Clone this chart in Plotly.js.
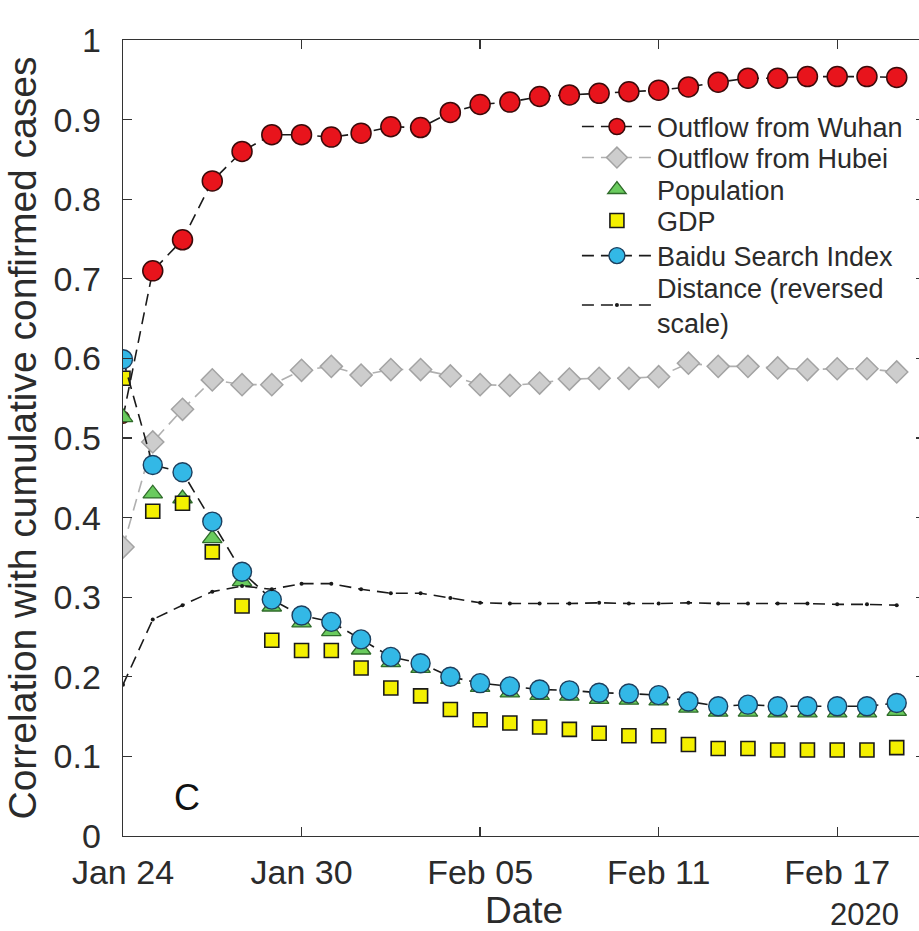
<!DOCTYPE html>
<html>
<head>
<meta charset="utf-8">
<script src="https://cdn.plot.ly/plotly-3.0.1.min.js"></script>
<style>
html,body{margin:0;padding:0;background:#fff;overflow:hidden;width:919px;height:931px;}
#chart{width:925px;height:931px;}
</style>
</head>
<body>
<div id="chart"></div>
<script>
var dates = ["2020-01-24","2020-01-25","2020-01-26","2020-01-27","2020-01-28","2020-01-29","2020-01-30","2020-01-31",
  "2020-02-01","2020-02-02","2020-02-03","2020-02-04","2020-02-05","2020-02-06","2020-02-07","2020-02-08","2020-02-09",
  "2020-02-10","2020-02-11","2020-02-12","2020-02-13","2020-02-14","2020-02-15","2020-02-16","2020-02-17","2020-02-18","2020-02-19"];
var wuhan = [0.526,0.710,0.749,0.823,0.860,0.881,0.881,0.878,0.883,0.891,0.890,0.909,0.919,0.922,0.929,0.931,0.933,0.935,0.937,0.941,0.947,0.952,0.952,0.954,0.954,0.954,0.953];
var hubei = [0.363,0.495,0.536,0.573,0.567,0.567,0.585,0.590,0.579,0.586,0.586,0.578,0.567,0.566,0.569,0.574,0.575,0.575,0.577,0.594,0.590,0.590,0.588,0.586,0.587,0.587,0.583];
var population = [0.526,0.430,0.424,0.374,0.320,0.288,0.268,0.257,0.234,0.218,0.211,0.197,0.187,0.180,0.177,0.176,0.172,0.171,0.170,0.161,0.156,0.156,0.155,0.155,0.155,0.155,0.157];
var gdp = [0.575,0.408,0.418,0.357,0.289,0.246,0.233,0.233,0.211,0.186,0.176,0.159,0.146,0.142,0.137,0.134,0.129,0.126,0.126,0.115,0.110,0.110,0.108,0.108,0.108,0.108,0.111];
var baidu = [0.599,0.466,0.457,0.395,0.332,0.297,0.277,0.269,0.247,0.225,0.217,0.200,0.192,0.188,0.184,0.183,0.180,0.179,0.177,0.169,0.163,0.165,0.163,0.163,0.163,0.163,0.167];
var distance = [0.190,0.272,0.290,0.307,0.314,0.310,0.317,0.317,0.310,0.305,0.305,0.299,0.293,0.292,0.292,0.292,0.293,0.292,0.292,0.293,0.292,0.292,0.292,0.292,0.291,0.291,0.290];
var seriesNames = ["Outflow from Wuhan","Outflow from Hubei","Population","GDP","Baidu Search Index","Distance (reversed<br>scale)"];
var xTickVals = ["2020-01-24","2020-01-30","2020-02-05","2020-02-11","2020-02-17"];
var xTickText = ["Jan 24","Jan 30","Feb 05","Feb 11","Feb 17"];
var yearLabel = "2020";
var panelLabel = "C";

var FONT = "Liberation Sans, Arial, sans-serif";
var TXT = "#2b2b2b";
var DASH = "12px,7px";

// Wuhan's first marker sits behind the Population triangle in the reference
var wuhanSizes = dates.map(function (d, i) { return i === 0 ? 12 : 20; });

var traces = [
  {x: dates, y: wuhan, name: seriesNames[0], type: "scatter", mode: "lines+markers", legend: "legend",
   line: {color: "#1a1a1a", width: 1.6, dash: DASH},
   marker: {symbol: "circle", size: wuhanSizes, opacity: 1, color: "#e8141c", line: {color: "#3a0a0a", width: 1.5}}},
  {x: dates, y: hubei, name: seriesNames[1], type: "scatter", mode: "lines+markers", legend: "legend2",
   line: {color: "#b0b0b0", width: 1.6, dash: DASH},
   marker: {symbol: "diamond", size: 17, color: "#cdcdcd", line: {color: "#a3a3a3", width: 1.5}}},
  {x: dates, y: population, name: seriesNames[2], type: "scatter", mode: "markers", legend: "legend3",
   marker: {symbol: "triangle-up", size: 17, color: "#6acb5e", line: {color: "#2f6b2a", width: 1.3}}},
  {x: dates, y: gdp, name: seriesNames[3], type: "scatter", mode: "markers", legend: "legend4",
   marker: {symbol: "square", size: 14, color: "#f4f000", line: {color: "#1a1a1a", width: 1.6}}},
  {x: dates, y: baidu, name: seriesNames[4], type: "scatter", mode: "lines+markers", legend: "legend5",
   line: {color: "#1a1a1a", width: 1.6, dash: DASH},
   marker: {symbol: "circle", size: 19, color: "#33b8e6", line: {color: "#1d3f5e", width: 1.4}}},
  {x: dates, y: distance, name: seriesNames[5], type: "scatter", mode: "lines+markers", legend: "legend6",
   line: {color: "#1a1a1a", width: 1.6, dash: DASH},
   marker: {symbol: "circle", size: 4, color: "#1a1a1a"}}
];

function legendAt(yPaper) {
  return {x: 0.566, y: yPaper, xanchor: "left", yanchor: "middle", bgcolor: "rgba(255,255,255,0)",
          borderwidth: 0, font: {family: FONT, size: 27, color: TXT}, itemwidth: 70};
}

var layout = {
  width: 925, height: 931,
  margin: {l: 123, r: 0, t: 40, b: 95, pad: 0},
  paper_bgcolor: "#ffffff", plot_bgcolor: "#ffffff",
  font: {family: FONT, color: TXT, size: 34},
  showlegend: true,
  legend: legendAt(0.8907),
  legend2: legendAt(0.8518),
  legend3: legendAt(0.8116),
  legend4: legendAt(0.7726),
  legend5: legendAt(0.7286),
  legend6: legendAt(0.6665),
  xaxis: {
    type: "date", range: ["2020-01-24 00:00", "2020-02-19 22:48"],
    tickmode: "array", tickvals: xTickVals, ticktext: xTickText,
    ticks: "inside", ticklen: 9, tickwidth: 1.3, tickcolor: "#333",
    showline: true, linecolor: "#333", linewidth: 1.4, mirror: "ticks",
    showgrid: false, zeroline: false,
    tickfont: {family: FONT, size: 34, color: TXT},
    ticklabelstandoff: 6,
    title: {text: "Date", font: {family: FONT, size: 37, color: TXT}, standoff: 15}
  },
  yaxis: {
    range: [0, 1], tick0: 0, dtick: 0.1,
    ticks: "inside", ticklen: 9, tickwidth: 1.3, tickcolor: "#333",
    showline: true, linecolor: "#333", linewidth: 1.4, mirror: "ticks",
    showgrid: false, zeroline: false,
    tickfont: {family: FONT, size: 34, color: TXT},
    ticklabelstandoff: 14,
    title: {text: "Correlation with cumulative confirmed cases", font: {family: FONT, size: 39, color: TXT}, standoff: 5}
  },
  annotations: [
    {xref: "paper", yref: "paper", x: 0.925, y: -0.123, xanchor: "center", yanchor: "bottom",
     text: yearLabel, showarrow: false, font: {family: FONT, size: 31, color: TXT}},
    {xref: "paper", yref: "paper", x: 0.0798, y: 0.048, xanchor: "center", yanchor: "middle",
     text: panelLabel, showarrow: false, font: {family: FONT, size: 36, color: "#111"}}
  ]
};

Plotly.newPlot("chart", traces, layout, {staticPlot: true, displayModeBar: false});
</script>
</body>
</html>
